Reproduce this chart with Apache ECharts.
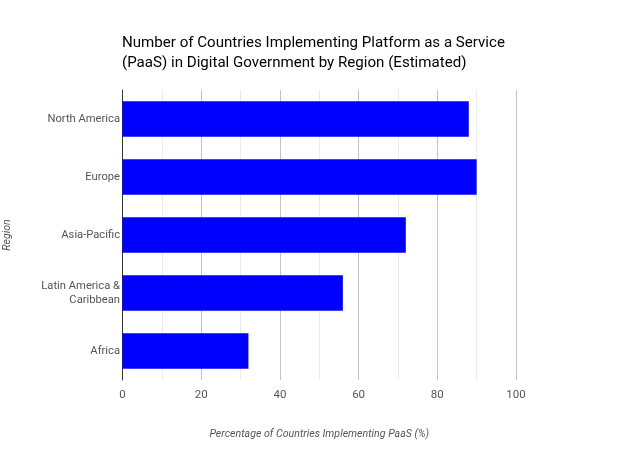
<!DOCTYPE html>
<html>
<head>
<meta charset="utf-8">
<title>PaaS by Region</title>
<script src="https://cdn.jsdelivr.net/npm/echarts@6/dist/echarts.min.js"></script>
<style>
html, body { margin: 0; padding: 0; background: #fff; }
#main { width: 639px; height: 470px; }
</style>
</head>
<body>
<div id="main"></div>
<script>
var regions = ['North America', 'Europe', 'Asia-Pacific', 'Latin America &\nCaribbean', 'Africa'];
var percentages = [88, 90, 72, 56, 32];
var titleText = 'Number of Countries Implementing Platform as a Service\n(PaaS) in Digital Government by Region (Estimated)';

var myChart = echarts.init(document.getElementById('main'), null, { renderer: 'canvas' });

myChart.setOption({
    animation: false,
    backgroundColor: '#fff',
    textStyle: { fontFamily: 'Roboto' },
    title: {
        text: titleText,
        left: 117,
        top: 28,
        textStyle: { fontFamily: 'Roboto', fontSize: 15.1, fontWeight: 'normal', color: '#000', lineHeight: 20 }
    },
    grid: { left: 122.5, right: 123, top: 90, bottom: 90, outerBoundsMode: 'none' },
    xAxis: {
        type: 'value',
        min: 0,
        max: 100,
        interval: 20,
        minorTick: { show: true, splitNumber: 2, length: 0 },
        minorSplitLine: { show: true, lineStyle: { color: '#ebebeb', width: 1 } },
        splitLine: { show: true, lineStyle: { color: '#c4c4c4', width: 1 } },
        axisLine: { show: false },
        axisTick: { show: false },
        axisLabel: { color: '#555', fontSize: 11.5, margin: 9 },
        name: 'Percentage of Countries Implementing PaaS (%)',
        nameLocation: 'middle',
        nameGap: 49,
        nameTextStyle: { fontStyle: 'italic', fontSize: 10.6, color: '#555' }
    },
    yAxis: {
        type: 'category',
        inverse: true,
        data: regions,
        axisLine: { show: true, lineStyle: { color: '#333', width: 1 } },
        axisTick: { show: false },
        axisLabel: { color: '#555', fontSize: 11.2, margin: 2.5, lineHeight: 14 },
        name: 'Region',
        nameLocation: 'middle',
        nameGap: 110,
        nameTextStyle: { fontStyle: 'italic', fontSize: 10.6, color: '#555' }
    },
    series: [{
        type: 'bar',
        data: percentages,
        barWidth: '61%',
        itemStyle: { color: '#0000ff' }
    }]
});
</script>
</body>
</html>
